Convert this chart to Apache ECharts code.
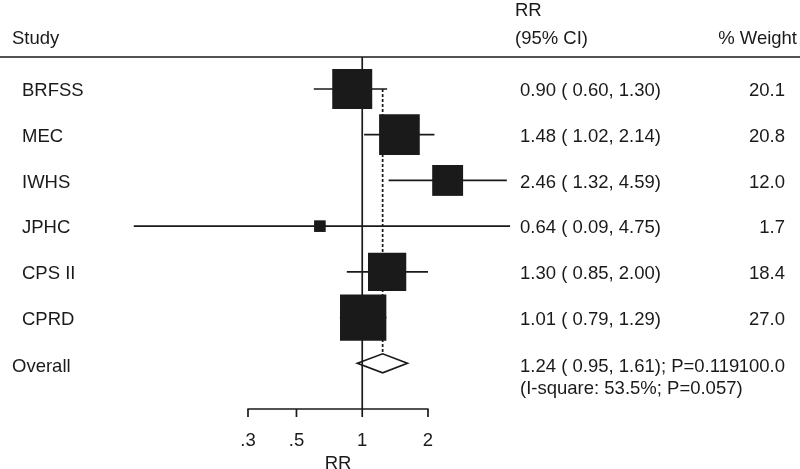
<!DOCTYPE html>
<html>
<head>
<meta charset="utf-8">
<script src="https://cdn.jsdelivr.net/npm/echarts@6/dist/echarts.min.js"></script>
<style>
html,body{margin:0;padding:0;background:#fff;}
#main{width:800px;height:469px;}
</style>
</head>
<body>
<div id="main"></div>
<script>
// 各研究数据
var studies = ['BRFSS', 'MEC', 'IWHS', 'JPHC', 'CPS II', 'CPRD'];
var rr = [0.90, 1.48, 2.46, 0.64, 1.30, 1.01];
var lower = [0.60, 1.02, 1.32, 0.09, 0.85, 0.79];
var upper = [1.30, 2.14, 4.59, 4.75, 2.00, 1.29];
var weight = [20.1, 20.8, 12.0, 1.7, 18.4, 27.0];
// 合并结果
var overall = [1.24, 0.95, 1.61];
var overallWeight = 100.0;
var overallP = '0.119';
var iSquare = '53.5%';
var hetP = '0.057';
// 坐标轴刻度
var tickValues = [0.3, 0.5, 1, 2];
var tickLabels = ['.3', '.5', '1', '2'];

var FONT = '"Liberation Sans", Arial, Helvetica, sans-serif';
var FS = 18.5;
var INK = '#1a1a1a';
var LW = 1.7;
var overallRow = studies.length;

var studyData = [];
for (var i = 0; i < studies.length; i++) {
  studyData.push([rr[i], i, lower[i], upper[i], weight[i]]);
}
var textData = [];
for (var i = 0; i <= studies.length; i++) {
  textData.push([1, i]);
}

var fmt = function (v, n) { return v.toFixed(n); };

var myChart = echarts.init(document.getElementById('main'));
var option = {
  animation: false,
  backgroundColor: '#fff',
  grid: { left: 248, right: 372, top: 57, bottom: 60, outerBoundsMode: 'none', containLabel: false },
  xAxis: {
    type: 'log', logBase: 10, min: 0.3, max: 2,
    axisLine: { show: true, onZero: false, lineStyle: { color: INK, width: LW } },
    axisTick: { show: false }, axisLabel: { show: false }, splitLine: { show: false },
    name: 'RR', nameLocation: 'middle', nameGap: 45,
    nameTextStyle: { fontFamily: FONT, fontSize: FS, color: INK }
  },
  yAxis: {
    type: 'value', inverse: true, min: -0.7, max: 7.0, show: false
  },
  graphic: [
    { type: 'line', shape: { x1: 0, y1: 57, x2: 800, y2: 57 }, style: { stroke: INK, lineWidth: LW } },
    { type: 'text', left: 515, top: 1, style: { text: 'RR', font: FS + 'px ' + FONT, fill: INK } },
    { type: 'text', left: 12, top: 29, style: { text: 'Study', font: FS + 'px ' + FONT, fill: INK } },
    { type: 'text', left: 515, top: 29, style: { text: '(95% CI)', font: FS + 'px ' + FONT, fill: INK } },
    { type: 'text', right: 3, top: 29, style: { text: '% Weight', font: FS + 'px ' + FONT, fill: INK } }
  ],
  series: [
    {
      // 参考线：RR=1 实线，合并估计值虚线
      type: 'custom', silent: true,
      data: [[1, 0]],
      renderItem: function (params, api) {
        var top = api.coord([1, -0.7]);
        var bot = api.coord([1, 7.0]);
        var d0 = api.coord([overall[0], 0]);
        var d1 = api.coord([overall[0], overallRow]);
        return {
          type: 'group', children: [
            { type: 'line', shape: { x1: top[0], y1: top[1], x2: bot[0], y2: bot[1] }, style: { stroke: INK, lineWidth: LW } },
            { type: 'line', shape: { x1: d0[0], y1: d0[1], x2: d1[0], y2: d1[1] - 9.5 }, style: { stroke: INK, lineWidth: LW, lineDash: [3, 2] } }
          ]
        };
      }
    },
    {
      // 各研究的置信区间和权重方块
      type: 'custom', silent: true,
      data: studyData,
      encode: { x: 0, y: 1 },
      renderItem: function (params, api) {
        var c = api.coord([api.value(0), api.value(1)]);
        var l = api.coord([api.value(2), api.value(1)]);
        var h = api.coord([api.value(3), api.value(1)]);
        var side = 8.92 * Math.sqrt(api.value(4));
        return {
          type: 'group', children: [
            { type: 'line', shape: { x1: l[0], y1: l[1], x2: h[0], y2: h[1] }, style: { stroke: INK, lineWidth: LW } },
            { type: 'rect', shape: { x: c[0] - side / 2, y: c[1] - side / 2, width: side, height: side }, style: { fill: INK } }
          ]
        };
      }
    },
    {
      // 合并效应菱形
      type: 'custom', silent: true,
      data: [[overall[0], overallRow, overall[1], overall[2]]],
      encode: { x: 0, y: 1 },
      renderItem: function (params, api) {
        var c = api.coord([api.value(0), api.value(1)]);
        var l = api.coord([api.value(2), api.value(1)]);
        var h = api.coord([api.value(3), api.value(1)]);
        return {
          type: 'polygon',
          shape: { points: [[l[0], c[1]], [c[0], c[1] - 9.5], [h[0], c[1]], [c[0], c[1] + 9.5]] },
          style: { fill: 'none', stroke: INK, lineWidth: LW }
        };
      }
    },
    {
      // 文字列
      type: 'custom', silent: true,
      data: textData,
      encode: { x: 0, y: 1 },
      renderItem: function (params, api) {
        var idx = params.dataIndex;
        var y = api.coord([1, api.value(1)])[1] + 2;
        var font = FS + 'px ' + FONT;
        var kids = [];
        if (idx < studies.length) {
          kids.push({ type: 'text', style: { x: 22, y: y, text: studies[idx], font: font, fill: INK, verticalAlign: 'middle' } });
          kids.push({ type: 'text', style: { x: 520, y: y, text: fmt(rr[idx], 2) + ' ( ' + fmt(lower[idx], 2) + ', ' + fmt(upper[idx], 2) + ')', font: font, fill: INK, verticalAlign: 'middle' } });
          kids.push({ type: 'text', style: { x: 785, y: y, text: fmt(weight[idx], 1), font: font, fill: INK, align: 'right', verticalAlign: 'middle' } });
        } else {
          y = y + 2;
          kids.push({ type: 'text', style: { x: 12, y: y, text: 'Overall', font: font, fill: INK, verticalAlign: 'middle' } });
          kids.push({ type: 'text', style: { x: 520, y: y, text: fmt(overall[0], 2) + ' ( ' + fmt(overall[1], 2) + ', ' + fmt(overall[2], 2) + '); P=' + overallP, font: font, fill: INK, verticalAlign: 'middle' } });
          kids.push({ type: 'text', style: { x: 785, y: y, text: fmt(overallWeight, 1), font: font, fill: INK, align: 'right', verticalAlign: 'middle' } });
          kids.push({ type: 'text', style: { x: 520, y: y + 22, text: '(I-square: ' + iSquare + '; P=' + hetP + ')', font: font, fill: INK, verticalAlign: 'middle' } });
        }
        return { type: 'group', children: kids };
      }
    },
    {
      // 坐标轴刻度和标签
      type: 'custom', silent: true,
      data: tickValues.map(function (v) { return [v, 7.0]; }),
      encode: { x: 0, y: 1 },
      renderItem: function (params, api) {
        var p = api.coord([api.value(0), api.value(1)]);
        return {
          type: 'group', children: [
            { type: 'line', shape: { x1: p[0], y1: p[1], x2: p[0], y2: p[1] + 8 }, style: { stroke: INK, lineWidth: LW } },
            { type: 'text', style: { x: p[0], y: p[1] + 32, text: tickLabels[params.dataIndex], font: FS + 'px ' + FONT, fill: INK, align: 'center', verticalAlign: 'middle' } }
          ]
        };
      }
    }
  ]
};
myChart.setOption(option);
window.addEventListener('resize', function () {
  myChart.resize();
});
</script>
</body>
</html>
